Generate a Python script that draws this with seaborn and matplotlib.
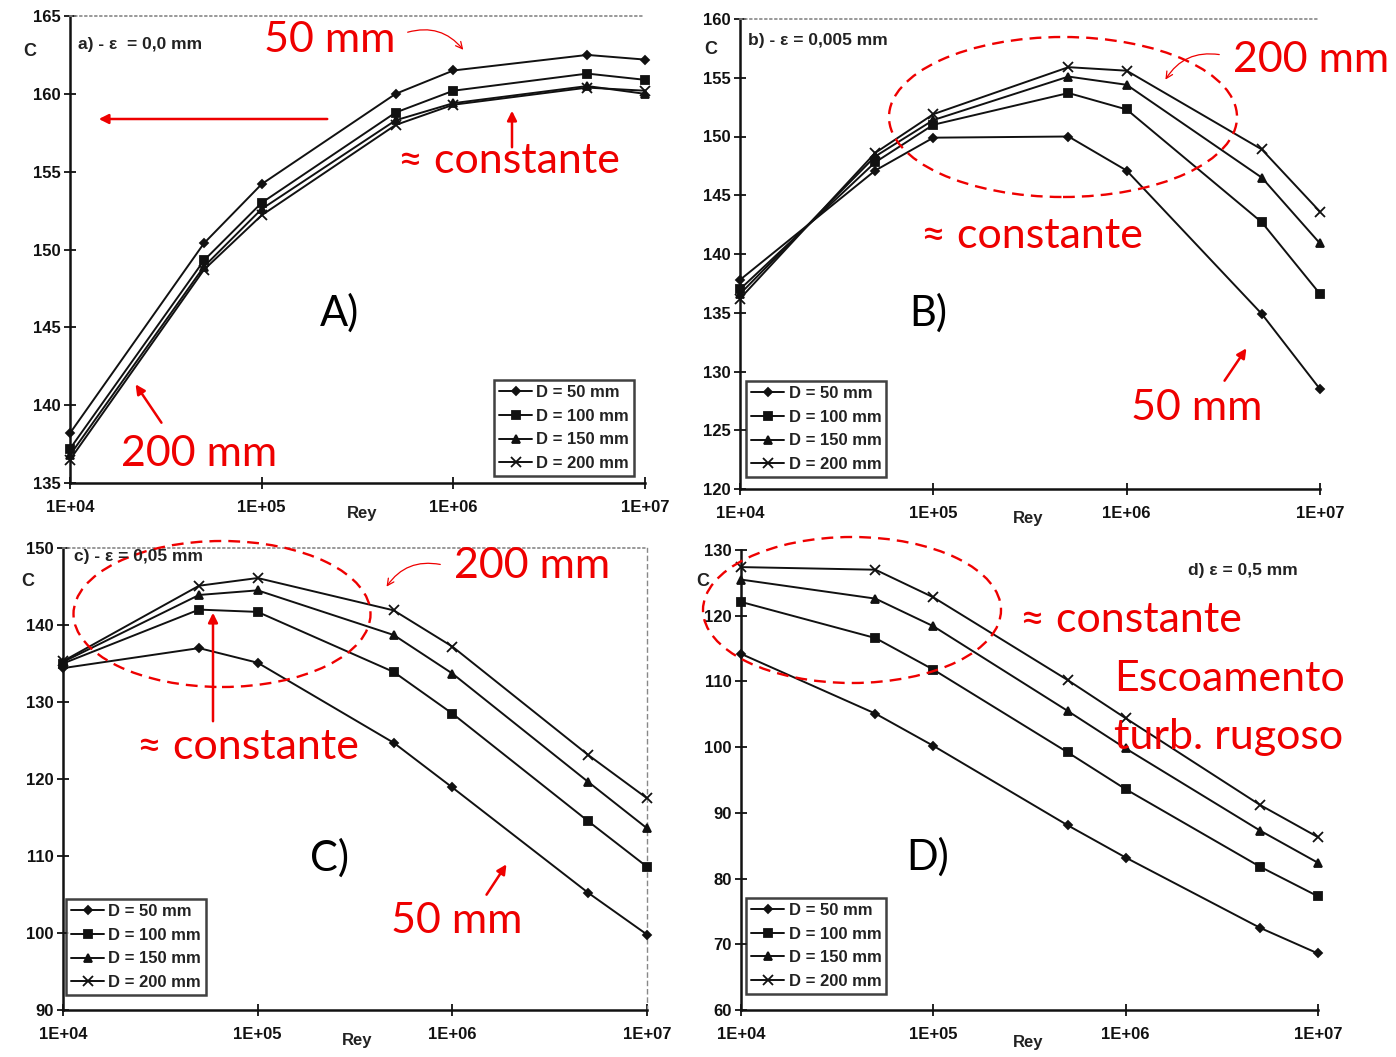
import matplotlib
matplotlib.use("Agg")
import matplotlib.pyplot as plt
from matplotlib.patches import Ellipse, FancyArrowPatch
from matplotlib.ticker import NullLocator
import pandas as pd
import seaborn as sns

sns.set_theme(style="white")
plt.rcParams['font.family'] = ['Liberation Sans', 'DejaVu Sans']

W, H = 1396, 1057

# Reynolds numbers at which C was computed
rey = [1e4, 5e4, 1e5, 5e5, 1e6, 5e6, 1e7]
diameters = ["D = 50 mm", "D = 100 mm", "D = 150 mm", "D = 200 mm"]

# a) eps = 0.0 mm
c_a_50 = [138.2, 150.4, 154.2, 160.0, 161.5, 162.5, 162.2]
c_a_100 = [137.2, 149.3, 153.0, 158.8, 160.2, 161.3, 160.9]
c_a_150 = [136.8, 148.9, 152.6, 158.3, 159.4, 160.5, 160.0]
c_a_200 = [136.5, 148.7, 152.2, 158.0, 159.3, 160.4, 160.2]

# b) eps = 0.005 mm
c_b_50 = [137.8, 147.1, 149.9, 150.0, 147.1, 134.9, 128.5]
c_b_100 = [137.0, 147.8, 151.0, 153.7, 152.3, 142.7, 136.6]
c_b_150 = [136.6, 148.3, 151.4, 155.1, 154.4, 146.5, 140.9]
c_b_200 = [136.2, 148.6, 151.9, 155.9, 155.6, 148.9, 143.6]

# c) eps = 0.05 mm
c_c_50 = [134.4, 137.0, 135.1, 124.7, 118.9, 105.2, 99.8]
c_c_100 = [135.0, 142.0, 141.7, 133.9, 128.5, 114.5, 108.6]
c_c_150 = [135.2, 143.9, 144.5, 138.7, 133.7, 119.6, 113.6]
c_c_200 = [135.3, 145.1, 146.1, 141.9, 137.2, 123.1, 117.5]

# d) eps = 0.5 mm
c_d_50 = [114.2, 105.1, 100.2, 88.1, 83.2, 72.5, 68.6]
c_d_100 = [122.1, 116.6, 111.8, 99.2, 93.6, 81.8, 77.3]
c_d_150 = [125.5, 122.6, 118.4, 105.5, 99.8, 87.3, 82.4]
c_d_200 = [127.4, 127.0, 122.8, 110.2, 104.4, 91.2, 86.3]

y_ticks_a = [135, 140, 145, 150, 155, 160, 165]
y_ticks_b = [120, 125, 130, 135, 140, 145, 150, 155, 160]
y_ticks_c = [90, 100, 110, 120, 130, 140, 150]
y_ticks_d = [60, 70, 80, 90, 100, 110, 120, 130]
x_ticks = [1e4, 1e5, 1e6, 1e7]
x_tick_labels = ["1E+04", "1E+05", "1E+06", "1E+07"]

markers = {"D = 50 mm": "D", "D = 100 mm": "s", "D = 150 mm": "^", "D = 200 mm": "x"}
msizes = {"D = 50 mm": 4, "D = 100 mm": 6, "D = 150 mm": 6, "D = 200 mm": 7}


def fx(x):
    return x / W


def fy(y):
    return 1 - y / H


fig = plt.figure(figsize=(W / 100, H / 100), dpi=100)
fig.patch.set_facecolor("white")

panels = [
    # series, axes box px (left, top, right, bottom), y ticks, legend top-left px,
    # caption, caption px, "C" px, "Rey" px
    ([c_a_50, c_a_100, c_a_150, c_a_200], (70, 16, 645, 483), y_ticks_a, (494, 380),
     "a) - ε  = 0,0 mm", (78, 45), (30, 52), (362, 514)),
    ([c_b_50, c_b_100, c_b_150, c_b_200], (740, 19, 1320, 489), y_ticks_b, (746, 381),
     "b) - ε = 0,005 mm", (748, 41), (711, 49), (1028, 519)),
    ([c_c_50, c_c_100, c_c_150, c_c_200], (63, 548, 647, 1010), y_ticks_c, (66, 899),
     "c) - ε = 0,05 mm", (74, 556), (28, 582), (357, 1040)),
    ([c_d_50, c_d_100, c_d_150, c_d_200], (741, 550, 1318, 1010), y_ticks_d, (746, 898),
     "d) ε = 0,5 mm", (1188, 570), (703, 581), (1028, 1042)),
]

for i, (series, box, yt, leg, cap, cap_xy, c_xy, rey_xy) in enumerate(panels):
    l, t, r, b = box
    ax = fig.add_axes([fx(l), fy(b), (r - l) / W, (b - t) / H])
    ax.set_facecolor("white")
    ax.set_xscale("log")
    for name, vals in zip(diameters, series):
        df = pd.DataFrame({"Rey": rey, "C": vals})
        sns.lineplot(data=df, x="Rey", y="C", color="#111111", linewidth=1.4,
                     marker=markers[name], markersize=msizes[name],
                     markeredgecolor="#111111", markerfacecolor="#111111",
                     markeredgewidth=1.3, label=name, ax=ax, clip_on=False, zorder=3)
    ax.set_xlim(1e4, 1e7)
    ax.set_ylim(yt[0], yt[-1])
    ax.set_yticks(yt)
    ax.set_yticklabels([str(v) for v in yt], fontsize=12, fontweight="bold", color="#222222")
    ax.set_xticks(x_ticks)
    ax.set_xticklabels(x_tick_labels, fontsize=12, fontweight="bold", color="#222222")
    ax.xaxis.set_minor_locator(NullLocator())
    ax.tick_params(axis="both", direction="inout", length=9, width=1.3, colors="#111111",
                   bottom=True, left=True)
    ax.tick_params(axis="x", pad=8)
    ax.tick_params(axis="y", pad=2)
    ax.set_xlabel("")
    ax.set_ylabel("")
    for s in ["left", "bottom"]:
        ax.spines[s].set_color("#111111")
        ax.spines[s].set_linewidth(1.8)
    ax.spines["top"].set_visible(i != 3)
    ax.spines["top"].set_color("#888888")
    ax.spines["top"].set_linestyle((0, (1, 2)))
    ax.spines["top"].set_linewidth(1.2)
    ax.spines["right"].set_visible(i == 2)
    ax.spines["right"].set_color("#888888")
    ax.spines["right"].set_linestyle((0, (3, 3)))
    ax.spines["right"].set_linewidth(1)
    ax.grid(False)

    handles, labels = ax.get_legend_handles_labels()
    lg = ax.legend(handles, labels, loc="upper left",
                   bbox_to_anchor=(fx(leg[0]), fy(leg[1])), bbox_transform=fig.transFigure,
                   prop={"size": 12, "weight": "bold"}, frameon=True, fancybox=False,
                   borderaxespad=0, handlelength=2.0, handletextpad=0.25,
                   labelspacing=0.52, borderpad=0.3)
    for txt in lg.get_texts():
        txt.set_color("#222222")
    lg.get_frame().set_edgecolor("#111111")
    lg.get_frame().set_linewidth(1.8)
    lg.set_zorder(5)

    fig.text(fx(cap_xy[0]), fy(cap_xy[1]), cap, fontsize=12.5, fontweight="bold",
             color="#222222", va="center", ha="left")
    fig.text(fx(c_xy[0]), fy(c_xy[1]), "C", fontsize=13, fontweight="bold",
             color="#222222", va="center", ha="center")
    fig.text(fx(rey_xy[0]), fy(rey_xy[1]), "Rey", fontsize=12, fontweight="bold",
             color="#222222", va="center", ha="center")

red = "#ee0000"
RF = ['Lato', 'DejaVu Sans']


def red_text(x, y, s, size=31):
    fig.text(fx(x), fy(y), s, color=red, fontsize=size, ha="center", va="center", family=RF)


def arrow(x0, y0, x1, y1, lw=1.6, style="-|>", rad=0.0, ms=14):
    fig.add_artist(FancyArrowPatch(
        (fx(x0), fy(y0)), (fx(x1), fy(y1)), transform=fig.transFigure,
        arrowstyle=style, mutation_scale=ms, color=red, lw=lw,
        connectionstyle=f"arc3,rad={rad}"))


def ellipse(cx, cy, w, h):
    fig.add_artist(Ellipse((fx(cx), fy(cy)), w / W, h / H, transform=fig.transFigure,
                           fill=False, edgecolor=red, lw=1.7, linestyle=(0, (5, 3))))


# panel labels
for s, (x, y) in {"A)": (340, 313), "B)": (928, 313), "C)": (330, 858), "D)": (928, 857)}.items():
    fig.text(fx(x), fy(y), s, fontsize=30, ha="center", va="center", color="black", family=RF)

# panel a notes
red_text(330, 40, "50 mm")
arrow(405, 33, 465, 52, lw=0.9, style="->", rad=-0.35, ms=12)
arrow(330, 119, 96, 119, lw=1.8)
red_text(509, 161, "≈ constante")
arrow(512, 150, 512, 108, lw=1.8)
red_text(199, 454, "200 mm")
arrow(163, 425, 134, 382, lw=1.8)

# panel b notes
ellipse(1063, 117, 348, 160)
red_text(1311, 60, "200 mm")
arrow(1222, 55, 1164, 82, lw=0.9, style="->", rad=0.35, ms=12)
red_text(1032, 236, "≈ constante")
red_text(1197, 408, "50 mm")
arrow(1223, 383, 1248, 346, lw=1.8)

# panel c notes
ellipse(222, 614, 297, 146)
red_text(532, 566, "200 mm")
arrow(443, 565, 385, 589, lw=0.9, style="->", rad=0.35, ms=12)
arrow(213, 724, 213, 610, lw=1.8)
red_text(248, 747, "≈ constante")
red_text(457, 921, "50 mm")
arrow(485, 897, 508, 862, lw=1.8)

# panel d notes
ellipse(852, 610, 298, 146)
red_text(1131, 620, "≈ constante")
red_text(1229, 679, "Escoamento")
red_text(1229, 737, "turb. rugoso")

fig.savefig("out.png", dpi=100, facecolor="white")
